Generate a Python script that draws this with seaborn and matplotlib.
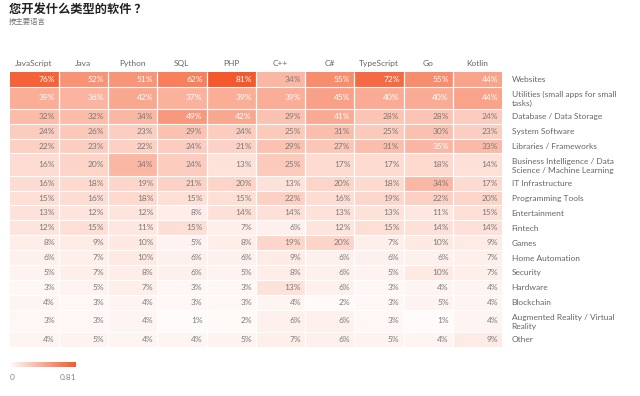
import numpy as np
import pandas as pd
import seaborn as sns
import matplotlib.pyplot as plt
from matplotlib.colors import LinearSegmentedColormap

plt.rcParams['font.family'] = ['Lato', 'Noto Sans CJK SC', 'DejaVu Sans']

languages = ['JavaScript', 'Java', 'Python', 'SQL', 'PHP', 'C++', 'C#', 'TypeScript', 'Go', 'Kotlin']
categories = ['Websites', 'Utilities (small apps for small\ntasks)', 'Database / Data Storage',
              'System Software', 'Libraries / Frameworks',
              'Business Intelligence / Data\nScience / Machine Learning', 'IT Infrastructure',
              'Programming Tools', 'Entertainment', 'Fintech', 'Games', 'Home Automation',
              'Security', 'Hardware', 'Blockchain', 'Augmented Reality / Virtual\nReality', 'Other']

websites = [76, 52, 51, 62, 81, 34, 55, 72, 55, 44]
utilities = [39, 36, 42, 37, 39, 39, 45, 40, 40, 44]
database = [32, 32, 34, 49, 42, 29, 41, 28, 28, 24]
system_sw = [24, 26, 23, 29, 24, 25, 31, 25, 30, 23]
libraries = [22, 23, 22, 24, 21, 29, 27, 31, 35, 33]
bi_ds_ml = [16, 20, 34, 24, 13, 25, 17, 17, 18, 14]
it_infra = [16, 18, 19, 21, 20, 13, 20, 18, 34, 17]
prog_tools = [15, 16, 18, 15, 15, 22, 16, 19, 22, 20]
entertainment = [13, 12, 12, 8, 14, 14, 13, 13, 11, 15]
fintech = [12, 15, 11, 15, 7, 6, 12, 15, 14, 14]
games = [8, 9, 10, 5, 8, 19, 20, 7, 10, 9]
home_auto = [6, 7, 10, 6, 6, 9, 6, 6, 6, 7]
security = [5, 7, 8, 6, 5, 8, 6, 5, 10, 7]
hardware = [3, 5, 7, 3, 3, 13, 6, 3, 4, 4]
blockchain = [4, 3, 4, 3, 3, 4, 2, 3, 5, 4]
ar_vr = [3, 3, 4, 1, 2, 6, 6, 3, 1, 4]
other = [4, 5, 4, 4, 5, 7, 6, 5, 4, 9]

rows = [websites, utilities, database, system_sw, libraries, bi_ds_ml, it_infra, prog_tools,
        entertainment, fintech, games, home_auto, security, hardware, blockchain, ar_vr, other]

df = pd.DataFrame(rows, index=categories, columns=languages)

# two-line labels get taller rows: repeat those rows 3 times, the others 2 times
row_units = np.array([3 if '\n' in c else 2 for c in categories])
expanded = df.iloc[np.repeat(np.arange(len(df)), row_units)].reset_index(drop=True) / 100
edges = np.concatenate([[0], np.cumsum(row_units)])
centers = (edges[:-1] + edges[1:]) / 2

cmap = LinearSegmentedColormap.from_list('wo', ['#fffdfc', '#f4582b'])

W, H = 640, 396
fig = plt.figure(figsize=(W / 100, H / 100), dpi=100)
ax = fig.add_axes([9.5 / W, 1 - 346.7 / H, (502 - 9.5) / W, 275 / H])
cax = fig.add_axes([9 / W, 1 - 366.5 / H, 67 / W, 5 / H])

sns.heatmap(expanded, ax=ax, cmap=cmap, vmin=0, vmax=0.81, cbar_ax=cax,
            cbar_kws={'orientation': 'horizontal'}, xticklabels=languages,
            yticklabels=False, linewidths=0)

ax.hlines(edges[1:-1], 0, len(languages), color='white', lw=0.8)
ax.vlines(range(1, len(languages)), 0, edges[-1], color='white', lw=0.9)

for i, row in enumerate(rows):
    for j, v in enumerate(row):
        ax.text(j + 0.92, centers[i], f'{v}%', ha='right', va='center', fontsize=6,
                color='white' if v >= 35 else '#7a7a7a')

ax.xaxis.tick_top()
ax.tick_params(axis='x', length=0, pad=3.5, labelsize=6, labelcolor='#666666', rotation=0)
ax.set_yticks(centers)
ax.set_yticklabels(categories, linespacing=1.3)
ax.yaxis.tick_right()
ax.tick_params(axis='y', length=0, pad=7, labelsize=6, labelcolor='#666666', rotation=0)
for lab in ax.get_yticklabels():
    lab.set_ha('left')
ax.set_xlabel('')
ax.set_ylabel('')

cbar = ax.collections[0].colorbar
cbar.outline.set_visible(False)
cax.set_xticks([])
cax.set_yticks([])
fig.text(10 / W, 1 - 378 / H, '0', fontsize=6, color='#888888', va='center', ha='left')
fig.text(76 / W, 1 - 378 / H, '0.81', fontsize=6, color='#888888', va='center', ha='right')

fig.text(9 / W, 1 - 9.5 / H, '您开发什么类型的软件 ？', fontsize=8.8, fontweight='bold',
         family=['Noto Sans CJK SC', 'DejaVu Sans'], color='#222222', va='center', ha='left')
fig.text(9 / W, 1 - 22 / H, '按主要语言', fontsize=5.3,
         family=['Noto Sans CJK SC', 'DejaVu Sans'], color='#777777', va='center', ha='left')

fig.savefig('out.png', dpi=100, facecolor='white')
